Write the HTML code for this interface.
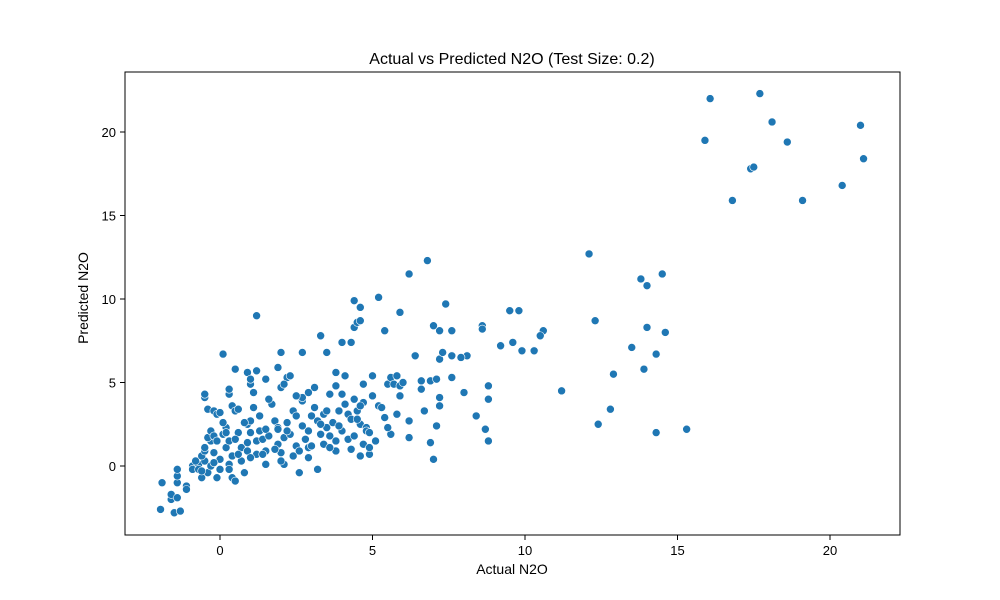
<!DOCTYPE html>
<html><head><meta charset="utf-8"><style>
body{margin:0;background:#fff;}
svg{display:block;font-family:"Liberation Sans","DejaVu Sans",sans-serif;}
</style></head><body>
<svg id="chart" width="1000" height="600">
<rect width="1000" height="600" fill="#fff"/>
<text x="512" y="64" text-anchor="middle" font-size="16">Actual vs Predicted N2O (Test Size: 0.2)</text>
<text x="512" y="574" text-anchor="middle" font-size="14">Actual N2O</text>
<text x="88" y="298" text-anchor="middle" font-size="14" transform="rotate(-90 88 298)">Predicted N2O</text>
<g id="ticks"></g>
<g id="points"></g>
<rect x="125" y="72" width="775" height="463" fill="none" stroke="#000" stroke-width="1"/>
</svg>
<script>
const xTicks=[0,5,10,15,20];
const yTicks=[0,5,10,15,20];
const actual=[16.07,15.9,17.7,18.1,18.6,17.4,17.5,16.8,19.1,20.4,21.0,21.1,12.1,12.3,13.8,14.0,14.5,14.0,14.6,13.5,14.3,13.9,12.9,11.2,12.8,12.4,14.3,15.3,10.6,10.5,10.3,9.8,9.5,9.6,9.9,9.2,8.6,8.6,8.8,8.8,8.4,8.7,8.8,8.1,7.9,7.6,7.6,8.0,7.2,7.3,7.4,7.2,7.6,7.0,6.8,6.2,5.2,5.9,5.4,4.4,4.6,4.4,4.5,4.6,4.3,4.0,3.8,3.5,3.3,2.7,2.0,1.9,2.2,1.5,1.2,0.5,0.9,0.1,1.2,6.4,6.6,6.9,7.1,6.6,6.7,7.2,7.2,7.1,6.9,7.0,6.2,6.2,5.8,
-1.9,-1.95,-1.6,-1.6,-1.5,-1.3,-1.4,-1.4,-1.4,-1.4,-1.1,-1.1,-0.9,-0.9,-0.7,-0.7,-0.6,-0.5,-0.4,-0.3,-0.6,-0.5,-0.5,-0.3,-0.4,-0.5,-0.5,-0.4,-0.2,-0.1,0.0,-0.3,-0.2,-0.1,-0.2,0,0,-0.1,0.1,0.2,0.2,0.3,0.3,0.3,0.4,0.4,0.5,0.4,0.5,0.3,0.3,0.6,0.6,0.7,0.7,0.8,0.9,0.9,1.0,1.0,1.0,1.0,1.1,1.1,1.2,1.2,1.3,1.4,1.5,1.5,1.6,1.7,1.6,1.8,1.9,1.9,2.0,2.1,2.1,2.0,2.1,2.2,2.3,2.3,2.4,2.5,2.5,2.6,2.6,2.7,2.7,2.7,2.8,2.9,2.9,2.9,3.0,3.1,3.1,3.2,3.2,3.3,3.4,3.4,3.5,3.6,3.6,3.7,3.8,3.8,3.9,4.0,4.0,4.1,4.2,4.2,4.3,4.4,4.4,4.5,4.6,4.6,4.7,4.7,4.7,4.8,4.8,4.9,4.9,4.9,5.0,5.0,5.1,5.2,5.3,5.5,5.6,5.7,5.8,5.9,6.0,5.9,5.4,5.6,5.5,4.1,3.8,3.5,2.9,2.5,1.3,0.8,0.1,0.6,1.9,3.0,2.2,1.5,0.5,-0.2,1.0,2.4,3.3,4.3,4.6,4.5,3.9,3.6,1.8,0.9,0.2,-0.8,-0.6,2.0,1.4];
const predicted=[22.0,19.5,22.3,20.6,19.4,17.8,17.9,15.9,15.9,16.8,20.4,18.4,12.7,8.7,11.2,10.8,11.5,8.3,8.0,7.1,6.7,5.8,5.5,4.5,3.4,2.5,2.0,2.2,8.1,7.8,6.9,9.3,9.3,7.4,6.9,7.2,8.4,8.2,4.8,4.0,3.0,2.2,1.5,6.6,6.5,6.6,5.3,4.4,6.4,6.8,9.7,8.1,8.1,8.4,12.3,11.5,10.1,9.2,8.1,9.9,9.5,8.3,8.6,8.7,7.4,7.4,5.6,6.8,7.8,6.8,6.8,5.9,5.3,5.2,5.7,5.8,5.6,6.7,9.0,6.6,5.1,5.1,5.2,4.6,3.3,4.1,3.6,2.4,1.4,0.4,2.7,1.7,3.1,
-1.0,-2.6,-2.0,-1.7,-2.8,-2.7,-1.9,-1.0,-0.6,-0.2,-1.2,-1.4,0.0,-0.2,0.1,-0.2,-0.7,0.3,-0.4,0.0,0.6,0.9,1.1,1.5,1.7,4.1,4.3,3.4,3.3,3.1,3.2,2.1,1.8,1.5,0.8,0.4,-0.2,-0.7,1.9,1.1,2.3,1.5,0.1,-0.2,0.6,-0.7,-0.9,3.6,3.3,4.3,4.6,3.4,2.0,1.1,0.3,-0.4,0.9,2.5,2.7,2.0,4.9,5.2,3.5,4.4,1.5,0.7,2.1,1.6,0.9,0.1,1.8,3.7,4.0,2.7,2.3,1.3,0.8,0.1,1.7,4.7,4.9,2.6,1.9,5.4,3.3,3.0,1.2,0.9,-0.4,2.4,3.9,4.1,1.6,2.1,1.1,0.5,3.0,3.5,4.7,2.7,-0.2,1.9,3.1,1.3,2.3,4.3,1.8,2.6,0.9,1.5,3.3,2.1,4.3,3.7,3.1,1.6,1.0,1.8,4.0,3.3,2.5,0.6,1.3,3.8,4.9,2.3,2.1,0.7,1.1,2.0,4.2,5.4,1.5,3.6,3.5,4.9,5.3,4.9,5.4,4.8,5.0,4.2,2.9,1.9,2.3,5.4,4.8,3.3,4.4,4.2,3.0,2.6,2.6,0.7,2.2,1.2,2.1,2.2,1.6,0.2,0.5,0.6,2.5,2.8,3.6,2.8,2.4,1.1,1.0,1.4,2.0,0.3,-0.3,0.3,0.7];
const NS="http://www.w3.org/2000/svg";
function sx(v){return 220+v*30.5;}
function sy(v){return 466-v*16.7;}
const tg=document.getElementById('ticks');
xTicks.forEach(t=>{
  const l=document.createElementNS(NS,'line');
  l.setAttribute('x1',sx(t));l.setAttribute('x2',sx(t));l.setAttribute('y1',535);l.setAttribute('y2',540);l.setAttribute('stroke','#000');
  
  
  tg.appendChild(l);
  const tx=document.createElementNS(NS,'text');
  tx.setAttribute('x',sx(t));tx.setAttribute('y',555);tx.setAttribute('text-anchor','middle');tx.setAttribute('font-size','13');
  tx.textContent=t;
  
  
  tg.appendChild(tx);
});
yTicks.forEach(t=>{
  const l=document.createElementNS(NS,'line');
  l.setAttribute('x1',120);l.setAttribute('x2',125);l.setAttribute('y1',sy(t));l.setAttribute('y2',sy(t));l.setAttribute('stroke','#000');
  
  
  tg.appendChild(l);
  const tx=document.createElementNS(NS,'text');
  tx.setAttribute('x',116);tx.setAttribute('y',sy(t)+5);tx.setAttribute('text-anchor','end');tx.setAttribute('font-size','13');
  tx.textContent=t;
  
  
  tg.appendChild(tx);
});
const pg=document.getElementById('points');
const n=Math.min(actual.length,predicted.length);
for(let i=0;i<n;i++){
  const c=document.createElementNS(NS,'circle');
  c.setAttribute('cx',sx(actual[i]));c.setAttribute('cy',sy(predicted[i]));c.setAttribute('r',4);
  c.setAttribute('fill','#1f77b4');c.setAttribute('stroke','#fff');c.setAttribute('stroke-width','0.6');
  
  
  pg.appendChild(c);
}
</script>
</body></html>
